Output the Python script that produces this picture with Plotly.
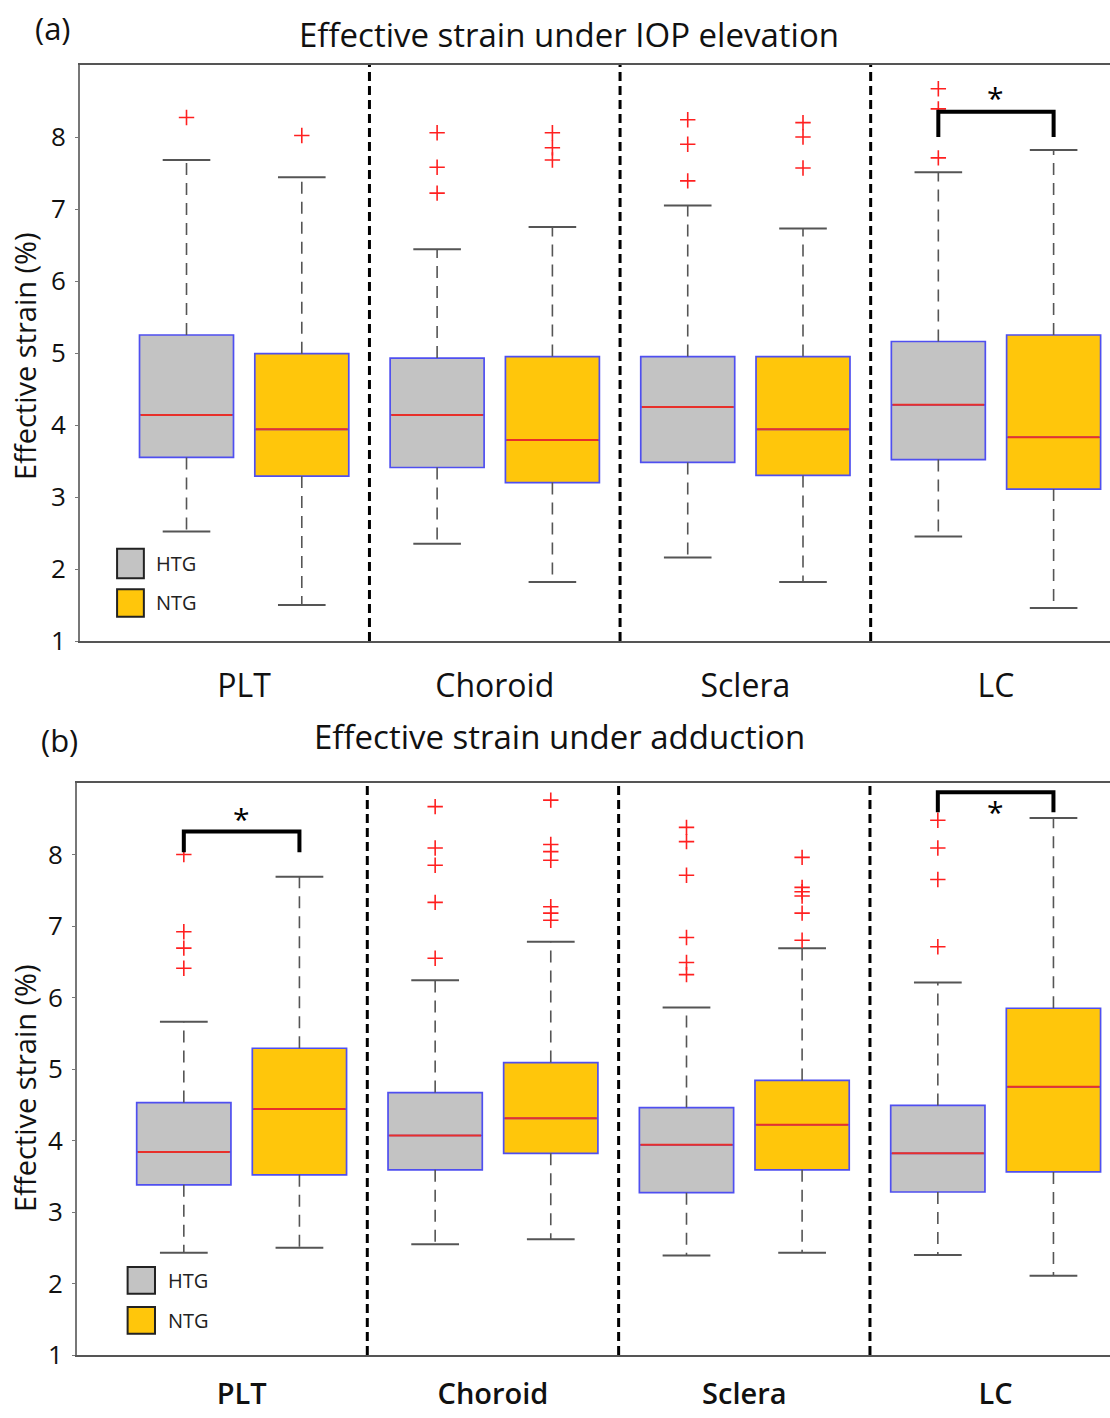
import plotly.graph_objects as go

# ---------------- data ----------------
categories = ["PLT", "Choroid", "Sclera", "LC"]
groups = ["HTG", "NTG"]

# Panel (a): Effective strain under IOP elevation
iop_htg_q1 = [3.55, 3.41, 3.48, 3.52]
iop_htg_median = [4.14, 4.14, 4.25, 4.28]
iop_htg_q3 = [5.25, 4.93, 4.95, 5.16]
iop_htg_lower = [2.52, 2.35, 2.16, 2.45]
iop_htg_upper = [7.68, 6.44, 7.05, 7.51]
iop_htg_outliers = [[8.27], [8.06, 7.58, 7.22], [8.24, 7.90, 7.39], [8.67, 8.39, 7.71]]

iop_ntg_q1 = [3.29, 3.20, 3.30, 3.11]
iop_ntg_median = [3.94, 3.79, 3.94, 3.83]
iop_ntg_q3 = [4.99, 4.95, 4.95, 5.25]
iop_ntg_lower = [1.50, 1.82, 1.82, 1.46]
iop_ntg_upper = [7.44, 6.75, 6.73, 7.82]
iop_ntg_outliers = [[8.02], [8.06, 7.85, 7.68], [8.20, 8.00, 7.57], []]

# Panel (b): Effective strain under adduction
add_htg_q1 = [3.38, 3.59, 3.27, 3.28]
add_htg_median = [3.84, 4.07, 3.94, 3.82]
add_htg_q3 = [4.53, 4.67, 4.46, 4.49]
add_htg_lower = [2.43, 2.55, 2.39, 2.40]
add_htg_upper = [5.66, 6.24, 5.86, 6.21]
add_htg_outliers = [[8.00, 6.92, 6.69, 6.41], [8.67, 8.09, 7.85, 7.33, 6.55],
                    [8.38, 8.18, 7.71, 6.84, 6.49, 6.32], [8.48, 8.09, 7.65, 6.71]]

add_ntg_q1 = [3.52, 3.82, 3.59, 3.56]
add_ntg_median = [4.44, 4.31, 4.22, 4.75]
add_ntg_q3 = [5.29, 5.09, 4.84, 5.85]
add_ntg_lower = [2.50, 2.62, 2.43, 2.11]
add_ntg_upper = [7.69, 6.78, 6.69, 8.51]
add_ntg_outliers = [[], [8.76, 8.14, 8.04, 7.92, 7.27, 7.18, 7.08],
                    [7.96, 7.54, 7.48, 7.42, 7.18, 6.80], []]

# significance brackets: category index, leg base, bracket top, star y
iop_sig_cat = [3]
iop_sig_base = [8.00]
iop_sig_top = [8.35]
iop_sig_star = [8.55]

add_sig_cat = [0, 3]
add_sig_base = [8.03, 8.59]
add_sig_top = [8.32, 8.87]
add_sig_star = [8.50, 8.60]

y_ticks = [1, 2, 3, 4, 5, 6, 7, 8]

# ---------------- style ----------------
FILL = {"HTG": "#c3c3c3", "NTG": "#ffc60b"}
BOX_LINE = "#4f4ff0"
MEDIAN = "#e8302a"
WHISKER = "#555555"
FONT = "Open Sans"
BOX_W = 0.75
OFFSET = 0.46
CAP_W = 0.38


def pos(ci, gi):
    return 2 * ci + 1.5 + (OFFSET if gi == 1 else -OFFSET)


fig = go.Figure()


def add_panel(xa, ya, stats, sig):
    for gi, (g, (q1, med, q3, lo, up, outl)) in enumerate(zip(groups, stats)):
        xs = [pos(ci, gi) for ci in range(len(categories))]
        # box bodies
        fig.add_trace(go.Box(
            x=xs, q1=q1, median=med, q3=q3, lowerfence=q1, upperfence=q3,
            width=BOX_W, fillcolor=FILL[g], line=dict(color=BOX_LINE, width=1.7),
            boxpoints=False, hoverinfo="skip", showlegend=False, name=g,
            xaxis=xa, yaxis=ya))
        # whiskers, caps, medians
        wx, wy, cx, cy, mx, my = [], [], [], [], [], []
        for x, a, b, c, d, m in zip(xs, q1, q3, lo, up, med):
            wx += [x, x, None, x, x, None]
            wy += [b, d, None, a, c, None]
            cx += [x - CAP_W / 2, x + CAP_W / 2, None, x - CAP_W / 2, x + CAP_W / 2, None]
            cy += [d, d, None, c, c, None]
            mx += [x - BOX_W / 2 + 0.01, x + BOX_W / 2 - 0.01, None]
            my += [m, m, None]
        fig.add_trace(go.Scatter(x=wx, y=wy, mode="lines",
                                 line=dict(color=WHISKER, width=1.6, dash="12px,8px"),
                                 hoverinfo="skip", showlegend=False, xaxis=xa, yaxis=ya))
        fig.add_trace(go.Scatter(x=cx, y=cy, mode="lines",
                                 line=dict(color=WHISKER, width=2),
                                 hoverinfo="skip", showlegend=False, xaxis=xa, yaxis=ya))
        fig.add_trace(go.Scatter(x=mx, y=my, mode="lines",
                                 line=dict(color=MEDIAN, width=2),
                                 hoverinfo="skip", showlegend=False, xaxis=xa, yaxis=ya))
        ox, oy = [], []
        for x, vals in zip(xs, outl):
            ox += [x] * len(vals)
            oy += vals
        fig.add_trace(go.Scatter(x=ox, y=oy, mode="markers",
                                 marker=dict(symbol="cross-thin", size=11,
                                             line=dict(color="#ff2020", width=1.6)),
                                 hoverinfo="skip", showlegend=False, xaxis=xa, yaxis=ya))
    cats, bases, tops, stars = sig
    for ci, b, t, s in zip(cats, bases, tops, stars):
        x0, x1 = pos(ci, 0), pos(ci, 1)
        fig.add_trace(go.Scatter(x=[x0, x0, x1, x1], y=[b, t, t, b], mode="lines",
                                 line=dict(color="black", width=4),
                                 hoverinfo="skip", showlegend=False, xaxis=xa, yaxis=ya))
        fig.add_annotation(x=(x0 + x1) / 2, y=s, text="*", showarrow=False,
                           xref=xa, yref=ya, font=dict(size=30, color="black", family=FONT))


add_panel("x", "y",
          [(iop_htg_q1, iop_htg_median, iop_htg_q3, iop_htg_lower, iop_htg_upper, iop_htg_outliers),
           (iop_ntg_q1, iop_ntg_median, iop_ntg_q3, iop_ntg_lower, iop_ntg_upper, iop_ntg_outliers)],
          (iop_sig_cat, iop_sig_base, iop_sig_top, iop_sig_star))
add_panel("x2", "y2",
          [(add_htg_q1, add_htg_median, add_htg_q3, add_htg_lower, add_htg_upper, add_htg_outliers),
           (add_ntg_q1, add_ntg_median, add_ntg_q3, add_ntg_lower, add_ntg_upper, add_ntg_outliers)],
          (add_sig_cat, add_sig_base, add_sig_top, add_sig_star))

W, H = 1110, 1418
XR = [0.19, 8.41]
cat_pos = [2 * ci + 1.5 for ci in range(len(categories))]

xaxis_common = dict(range=XR, showline=True, linecolor="#555555", linewidth=2, mirror=True,
                    tickmode="array", tickvals=cat_pos, ticktext=categories, ticks="",
                    showgrid=False, zeroline=False, automargin=False)
yaxis_common = dict(range=[1, 9], showline=True, linecolor="#777777", linewidth=2,
                    tickmode="array", tickvals=y_ticks, ticks="outside", ticklen=3,
                    tickcolor="#777", showgrid=False, zeroline=False, automargin=False,
                    ticklabelstandoff=4, tickfont=dict(family=FONT, size=26, color="#111"))

fig.update_layout(
    width=W, height=H, margin=dict(l=0, r=0, t=0, b=0),
    paper_bgcolor="white", plot_bgcolor="white", showlegend=False,
    xaxis=dict(domain=[80 / W, 1], anchor="y", ticklabelstandoff=16,
               tickfont=dict(family=FONT, size=32, color="#111"), **xaxis_common),
    yaxis=dict(domain=[1 - 641 / H, 1 - 65 / H], anchor="x", **yaxis_common),
    xaxis2=dict(domain=[77 / W, 1], anchor="y2", ticklabelstandoff=12,
                tickfont=dict(family=FONT, size=29, color="#111", weight=600), **xaxis_common),
    yaxis2=dict(domain=[1 - 1355 / H, 1 - 783 / H], anchor="x2", **yaxis_common),
)

# divider lines between tissue groups
for xa, ya in [("x", "y"), ("x2", "y2")]:
    for ci in range(len(categories) - 1):
        fig.add_shape(type="line", x0=2 * ci + 2.5, x1=2 * ci + 2.5, y0=0, y1=1,
                      xref=xa, yref=f"{ya} domain",
                      line=dict(color="black", width=3, dash="9px,5px"))

# manual legends
leg = [("x", "y", 0.036, 0.062, [(0.109, 0.160), (0.042, 0.090)], 0.072, [0.134, 0.066]),
       ("x2", "y2", 0.049, 0.0755, [(0.107, 0.154), (0.037, 0.084)], 0.086, [0.130, 0.060])]
for xa, ya, x0, x1, ys, tx, tys in leg:
    for g, (y0, y1), ty in zip(groups, ys, tys):
        fig.add_shape(type="rect", x0=x0, x1=x1, y0=y0, y1=y1,
                      xref=f"{xa} domain", yref=f"{ya} domain",
                      fillcolor=FILL[g], line=dict(color="#222", width=2))
        fig.add_annotation(x=tx, y=ty, xref=f"{xa} domain", yref=f"{ya} domain",
                           text=g, showarrow=False, xanchor="left", yanchor="middle",
                           font=dict(family=FONT, size=20, color="#222"))

# titles and labels
texts = [
    ("(a)", 53 / W, 1 - 28 / H, 31),
    ("Effective strain under IOP elevation", 569 / W, 1 - 35 / H, 33),
    ("(b)", 59 / W, 1 - 740 / H, 31),
    ("Effective strain under adduction", 559 / W, 1 - 736 / H, 33),
]
for t, x, y, s in texts:
    fig.add_annotation(x=x, y=y, xref="paper", yref="paper", text=t, showarrow=False,
                       xanchor="center", yanchor="middle",
                       font=dict(family=FONT, size=s, color="#111"))

for y in [1 - 356 / H, 1 - 1088 / H]:
    fig.add_annotation(x=24 / W, y=y, xref="paper", yref="paper", text="Effective strain (%)",
                       showarrow=False, textangle=-90, xanchor="center", yanchor="middle",
                       font=dict(family=FONT, size=29, color="#111"))

fig.write_html("out.html", post_script="document.body.style.margin='0';",
               config={"displayModeBar": False})
